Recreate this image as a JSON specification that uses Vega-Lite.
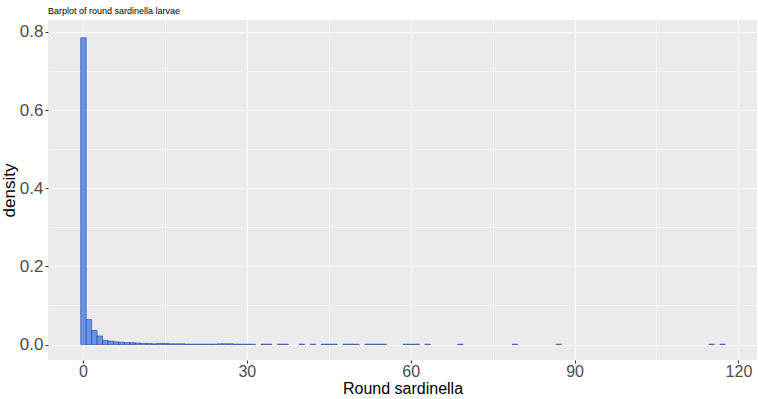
{
  "$schema": "https://vega.github.io/schema/vega-lite/v6.json",
  "autosize": {"type": "none"},
  "width": 709,
  "height": 340,
  "padding": {"left": 48, "top": 20, "right": 1, "bottom": 39},
  "background": "white",
  "title": {"text": "Barplot of round sardinella larvae", "anchor": "start", "frame": "group", "fontSize": 9, "font": "Liberation Sans", "fontWeight": "normal", "color": "black", "offset": 4},
  "config": {
    "view": {"fill": "#EBEBEB", "stroke": null},
    "axis": {"labelFont": "Liberation Sans", "titleFont": "Liberation Sans", "titleFontWeight": "normal", "domain": false, "tickColor": "#333333", "tickSize": 3, "labelColor": "#4D4D4D", "titleColor": "black", "gridColor": "white"}
  },
  "data": {"values": [
    {"v": 0, "d": 0.785}, {"v": 1, "d": 0.064}, {"v": 2, "d": 0.036}, {"v": 3, "d": 0.022},
    {"v": 4, "d": 0.011}, {"v": 5, "d": 0.009}, {"v": 6, "d": 0.007}, {"v": 7, "d": 0.006},
    {"v": 8, "d": 0.005}, {"v": 9, "d": 0.005}, {"v": 10, "d": 0.004}, {"v": 11, "d": 0.003},
    {"v": 12, "d": 0.003}, {"v": 13, "d": 0.002}, {"v": 14, "d": 0.003}, {"v": 15, "d": 0.003},
    {"v": 16, "d": 0.002}, {"v": 17, "d": 0.002}, {"v": 18, "d": 0.002}, {"v": 19, "d": 0.001},
    {"v": 20, "d": 0.001}, {"v": 21, "d": 0.001}, {"v": 22, "d": 0.001}, {"v": 23, "d": 0.001},
    {"v": 24, "d": 0.001}, {"v": 25, "d": 0.002}, {"v": 26, "d": 0.002}, {"v": 27, "d": 0.002},
    {"v": 28, "d": 0.001}, {"v": 29, "d": 0.001}, {"v": 30, "d": 0.001}, {"v": 31, "d": 0.001},
    {"v": 33, "d": 0.001}, {"v": 34, "d": 0.001}, {"v": 36, "d": 0.001}, {"v": 37, "d": 0.001},
    {"v": 40, "d": 0.001}, {"v": 42, "d": 0.001}, {"v": 44, "d": 0.001}, {"v": 45, "d": 0.001},
    {"v": 46, "d": 0.001}, {"v": 48, "d": 0.001}, {"v": 49, "d": 0.001}, {"v": 50, "d": 0.001},
    {"v": 52, "d": 0.001}, {"v": 53, "d": 0.001}, {"v": 54, "d": 0.001}, {"v": 55, "d": 0.001},
    {"v": 59, "d": 0.001}, {"v": 60, "d": 0.001}, {"v": 61, "d": 0.001}, {"v": 63, "d": 0.001},
    {"v": 69, "d": 0.001}, {"v": 79, "d": 0.001}, {"v": 87, "d": 0.001}, {"v": 115, "d": 0.001},
    {"v": 117, "d": 0.001}
  ]},
  "mark": {"type": "bar", "fill": "#6495ED", "stroke": "#27408B", "strokeWidth": 0.6, "binSpacing": 0},
  "encoding": {
    "x": {"field": "v", "type": "quantitative",
      "bin": {"step": 1, "extent": [-0.5, 117.5], "nice": false},
      "scale": {"domain": [-6.4, 123.4], "nice": false, "zero": false},
      "axis": {"values": [0, 15, 30, 45, 60, 75, 90, 105, 120], "grid": true,
        "labelExpr": "datum.value % 30 === 0 ? datum.label : ''",
        "gridWidth": {"condition": {"test": "datum.value % 30 !== 0", "value": 0.5}, "value": 1.1},
        "tickOpacity": {"condition": {"test": "datum.value % 30 !== 0", "value": 0}, "value": 1},
        "title": "Round sardinella", "titleFontSize": 16, "labelFontSize": 16, "labelPadding": 0, "titlePadding": 1}},
    "y": {"field": "d", "type": "quantitative",
      "scale": {"domain": [-0.0395, 0.8305], "nice": false, "zero": false},
      "axis": {"values": [0, 0.1, 0.2, 0.3, 0.4, 0.5, 0.6, 0.7, 0.8],
        "format": ".1f",
        "labelExpr": "round(datum.value*10) % 2 === 0 ? datum.label : ''",
        "gridWidth": {"condition": {"test": "round(datum.value*10) % 2 !== 0", "value": 0.5}, "value": 1.1},
        "tickOpacity": {"condition": {"test": "round(datum.value*10) % 2 !== 0", "value": 0}, "value": 1},
        "title": "density", "titleFontSize": 17, "labelFontSize": 17, "labelPadding": 2, "titlePadding": 1}},
    "y2": {"datum": 0}
  }
}
